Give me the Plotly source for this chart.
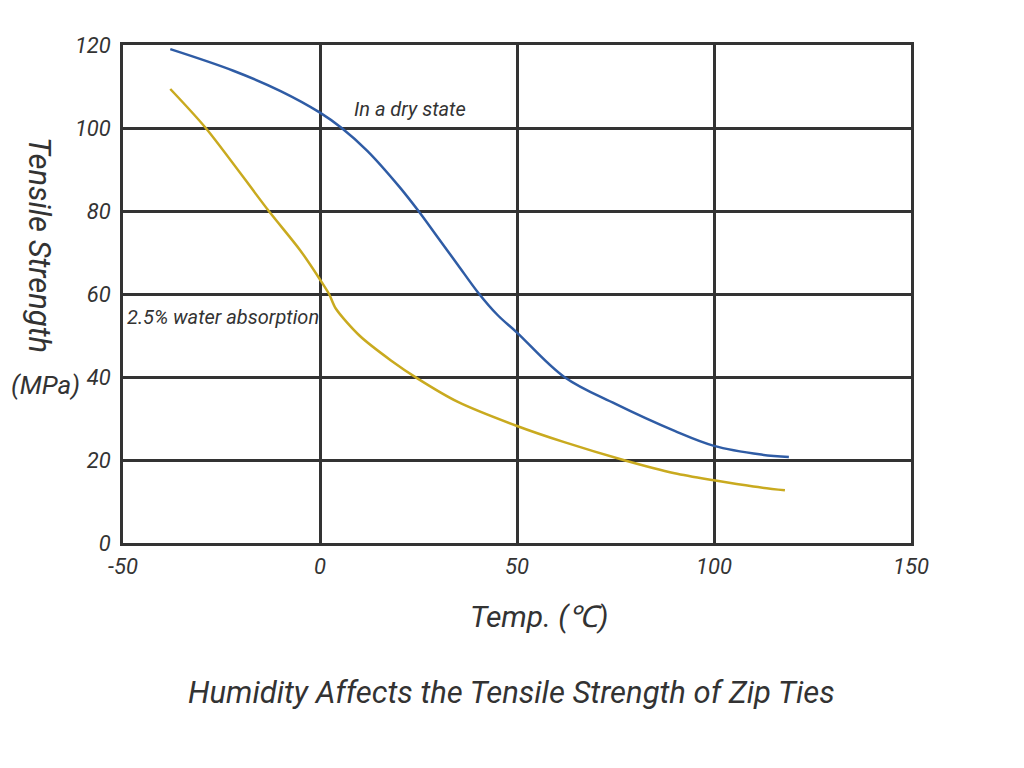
import plotly.graph_objects as go

# Data
temp_dry = [-38, -22, -10, 0, 5.5, 12, 20, 25, 30, 35, 40, 45, 50, 62, 75, 90, 100, 112, 119]
strength_dry = [119, 113.8, 108.9, 103.7, 100, 94.5, 86, 80, 73.5, 67, 60.5, 55, 50.7, 40, 33.5, 27, 23.4, 21.3, 20.7]

temp_wet = [-38, -29, -13, -5, 0, 2.3, 4, 10, 18, 25, 35, 50, 62, 77, 90, 100, 110, 118]
strength_wet = [109.4, 100, 80, 70.5, 63.5, 60, 56.5, 50, 44, 39.5, 34, 28.2, 24.3, 20, 16.8, 15.1, 13.6, 12.7]

x_ticks = [-50, 0, 50, 100, 150]
y_ticks = [0, 20, 40, 60, 80, 100, 120]

FONT = "Roboto, 'Open Sans', sans-serif"
TXT = "#333333"
GRID = "#333333"

# page pixel geometry of the plot area (page has an 8px body offset)
PL, PR, PT, PB = 123, 911, 45, 543
OFF = 8
W, H = 1024, 768


def px_x(px):
    return (px - PL) / (PR - PL)


def px_y(py):
    return (PB - py) / (PB - PT)


fig = go.Figure()
fig.add_trace(go.Scatter(x=temp_dry, y=strength_dry, mode="lines",
                         line=dict(color="#2f5ca5", width=2.5, shape="spline", smoothing=1.0),
                         showlegend=False, hoverinfo="skip"))
fig.add_trace(go.Scatter(x=temp_wet, y=strength_wet, mode="lines",
                         line=dict(color="#c9aa1f", width=2.5, shape="spline", smoothing=0.8),
                         showlegend=False, hoverinfo="skip"))

tickfont = dict(family=FONT, size=22, color=TXT, style="italic")
fig.update_layout(
    width=W, height=H,
    margin=dict(l=PL - OFF, r=W - (PR - OFF), t=PT - OFF, b=H - (PB - OFF)),
    paper_bgcolor="white", plot_bgcolor="white",
    font=dict(family=FONT, color=TXT, size=20, style="italic"),
    xaxis=dict(range=[-50, 150], tickvals=x_ticks, ticktext=[str(v) for v in x_ticks],
               showgrid=True, gridcolor=GRID, gridwidth=2.5, zeroline=False,
               showline=True, linecolor=GRID, linewidth=2.5, mirror=True,
               ticks="", ticklabelstandoff=2, tickfont=tickfont),
    yaxis=dict(range=[0, 120], tickvals=y_ticks, ticktext=[str(v) for v in y_ticks],
               showgrid=True, gridcolor=GRID, gridwidth=2.5, zeroline=False,
               showline=True, linecolor=GRID, linewidth=2.5, mirror=True,
               ticks="", ticklabelstandoff=5, tickfont=tickfont),
)

annos = [
    dict(text="In a dry state", x=8, y=104.5, xref="x", yref="y", xanchor="left",
         font=dict(size=20)),
    dict(text="2.5% water absorption", x=-49.5, y=54.5, xref="x", yref="y", xanchor="left",
         font=dict(size=20)),
    dict(text="Temp. (℃)", x=px_x(539), y=px_y(616), font=dict(size=30)),
    dict(text="Humidity Affects the Tensile Strength of Zip Ties", x=px_x(511), y=px_y(692),
         font=dict(size=31)),
    dict(text="Tensile Strength", x=px_x(40), y=px_y(245), textangle=90, font=dict(size=31)),
    dict(text="(MPa)", x=px_x(9), y=px_y(385), xanchor="left", font=dict(size=26)),
]
for a in annos:
    a.setdefault("showarrow", False)
    a.setdefault("xref", "paper")
    a.setdefault("yref", "paper")
    a.setdefault("xanchor", "center")
    a.setdefault("yanchor", "middle")
    fig.add_annotation(**a)

fig.write_html("out.html")
